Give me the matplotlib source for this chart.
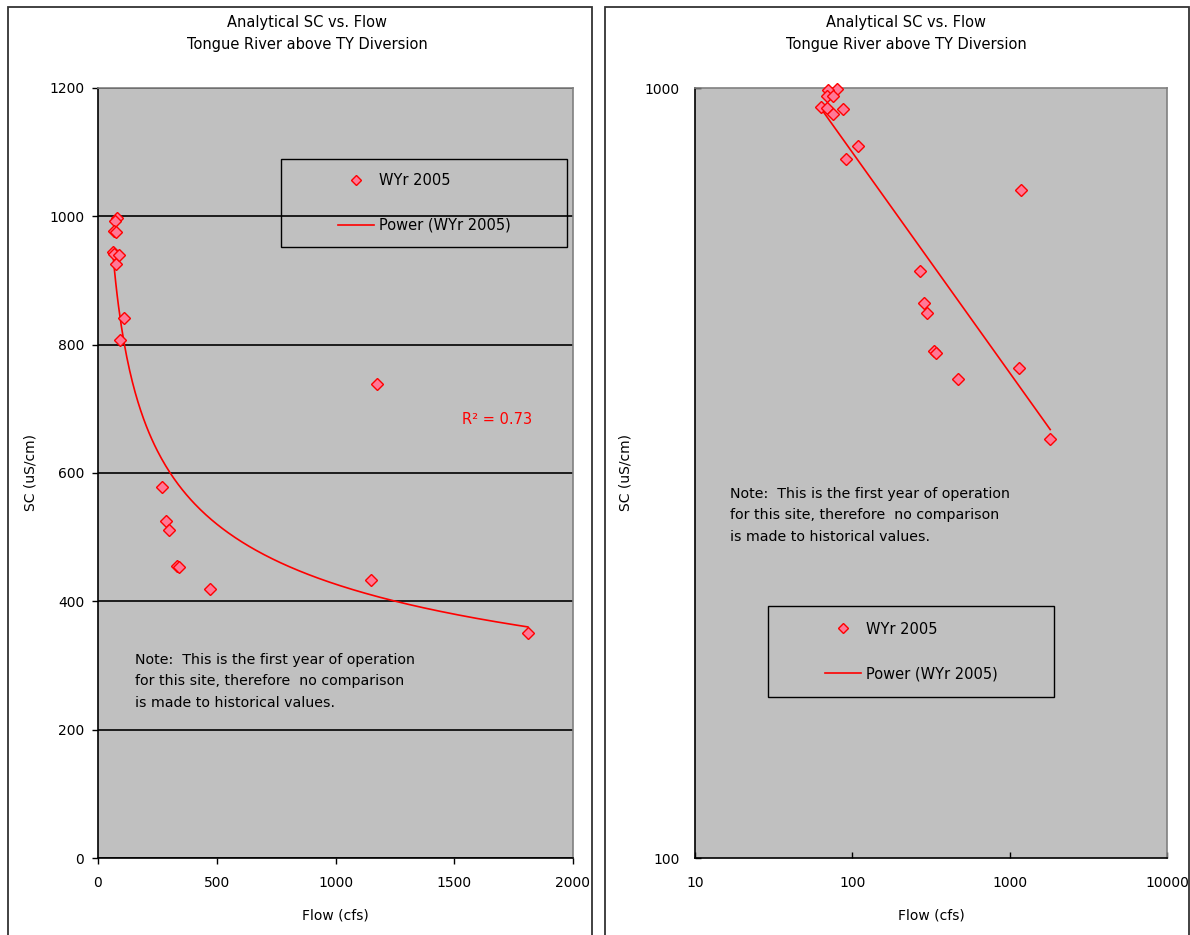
"""SC vs. flow for Tongue River above TY Diversion, linear and log views."""
import numpy as np
import matplotlib.pyplot as plt
from matplotlib.patches import Rectangle
from matplotlib.lines import Line2D

plt.rcParams['font.family'] = ['DejaVu Sans']
plt.rcParams['font.size'] = 10.5
plt.rcParams['xtick.labelsize'] = 10
plt.rcParams['ytick.labelsize'] = 10

W, H = 1190, 935

TITLE_LINES = ['Analytical SC vs. Flow', 'Tongue River above TY Diversion']
SERIES = 'WYr 2005'
FIT = 'Power (WYr 2005)'
NOTE_LINES = ['Note:  This is the first year of operation',
              'for this site, therefore  no comparison',
              'is made to historical values.']
R2_TEXT = 'R\u00b2 = 0.73'

# WYr 2005 samples
flow = [80, 70, 69, 75, 63, 69, 75, 87, 109, 91,
        268, 285, 297, 332, 340, 470, 1150, 1175, 1810]
sc = [998, 993, 977, 975, 944, 942, 925, 940, 841, 808,
      578, 525, 511, 455, 453, 419, 433, 738, 350]

left_xticks = [0, 500, 1000, 1500, 2000]
left_yticks = [0, 200, 400, 600, 800, 1000, 1200]
right_xticks = [10, 100, 1000, 10000]
right_yticks = [100, 1000]

GRAY = '#c0c0c0'
MARK_FACE = '#ff7896'
RED = '#ff0000'


def fx(px):
    return px / W


def fy(py):
    return 1 - py / H


def box(x0, y0, x1, y1):
    return [fx(x0), fy(y1), fx(x1) - fx(x0), fy(y0) - fy(y1)]


# power trendline y = a * x^b fitted in log space
x = np.array(flow, dtype=float)
y = np.array(sc, dtype=float)
b, log_a = np.polyfit(np.log(x), np.log(y), 1)
a = np.exp(log_a)

fig = plt.figure(figsize=(W / 100, H / 100), dpi=100)

# chart area borders and titles
for x0, x1, xc in [(8, 592, 307), (605, 1189, 906)]:
    fig.add_artist(Rectangle((fx(x0), -0.02), fx(x1) - fx(x0), fy(7) + 0.02,
                             transform=fig.transFigure, fill=False,
                             ec='#333333', lw=1.3))
    for i, line in enumerate(TITLE_LINES):
        fig.text(fx(xc), fy(22 + 23 * i), line, ha='center', va='center')


def style(ax):
    ax.set_facecolor(GRAY)
    for s in ['top', 'right']:
        ax.spines[s].set_color('#808080')
    for s in ['left', 'bottom']:
        ax.spines[s].set_color('black')
    for s in ax.spines.values():
        s.set_linewidth(1.2)


def legend_box(ax, x0, y0, x1, y1):
    fig.add_artist(Rectangle((fx(x0), fy(y1)), fx(x1) - fx(x0), fy(y0) - fy(y1),
                             transform=fig.transFigure, fill=False,
                             ec='black', lw=1.0, zorder=5))
    handles = [
        Line2D([], [], ls='none', marker='D', ms=5, mfc=MARK_FACE, mec=RED, mew=1),
        Line2D([], [], color=RED, lw=1.2),
    ]
    ax.legend(handles, [SERIES, FIT], loc='center', frameon=False,
              bbox_to_anchor=(fx((x0 + x1) / 2), fy((y0 + y1) / 2)),
              bbox_transform=fig.transFigure, labelspacing=2.05,
              handlelength=2.5, handletextpad=0.3, numpoints=1)


def note(x0, y0):
    for i, line in enumerate(NOTE_LINES):
        fig.text(fx(x0), fy(y0 + 21.5 * i), line, va='center', fontsize=10.2)


# linear axes
ax1 = fig.add_axes(box(98, 88, 573, 858))
style(ax1)
ax1.set_xlim(0, 2000)
ax1.set_ylim(0, 1200)
ax1.set_xticks(left_xticks)
ax1.set_yticks(left_yticks)
ax1.yaxis.grid(True, color='black', lw=1.2)
ax1.set_axisbelow(True)
ax1.tick_params(direction='out', length=4, width=1)
ax1.tick_params(axis='x', pad=9)
ax1.tick_params(axis='y', pad=6)
xs = np.linspace(x.min(), x.max(), 300)
ax1.plot(xs, a * xs ** b, color=RED, lw=1.2, zorder=3)
ax1.plot(flow, sc, ls='none', marker='D', ms=6, mfc=MARK_FACE, mec=RED,
         mew=1, zorder=4)
ax1.set_xlabel('Flow (cfs)', labelpad=13, fontsize=10)
ax1.set_ylabel('SC (uS/cm)', labelpad=8, fontsize=10)
legend_box(ax1, 281, 159, 567, 247)
fig.text(fx(462), fy(419), R2_TEXT, color=RED, va='center')
note(135, 660)

# log-log axes
ax2 = fig.add_axes(box(695, 88, 1167, 858))
style(ax2)
ax2.set_xscale('log')
ax2.set_yscale('log')
ax2.set_xlim(10, 10000)
ax2.set_ylim(100, 1000)
ax2.set_xticks(right_xticks)
ax2.set_xticklabels([str(v) for v in right_xticks])
ax2.set_yticks(right_yticks)
ax2.set_yticklabels([str(v) for v in right_yticks])
ax2.minorticks_off()
ax2.tick_params(direction='in', length=4, width=1)
ax2.tick_params(axis='x', pad=13)
ax2.tick_params(axis='y', pad=11)
xs = np.geomspace(x.min(), x.max(), 300)
ax2.plot(xs, a * xs ** b, color=RED, lw=1.2, zorder=3)
ax2.plot(flow, sc, ls='none', marker='D', ms=6, mfc=MARK_FACE, mec=RED,
         mew=1, zorder=4, clip_on=False)
ax2.set_xlabel('Flow (cfs)', labelpad=13, fontsize=10)
ax2.set_ylabel('SC (uS/cm)', labelpad=9, fontsize=10)
legend_box(ax2, 768, 606, 1054, 697)
note(730, 494)

fig.savefig('out.png', dpi=100)
